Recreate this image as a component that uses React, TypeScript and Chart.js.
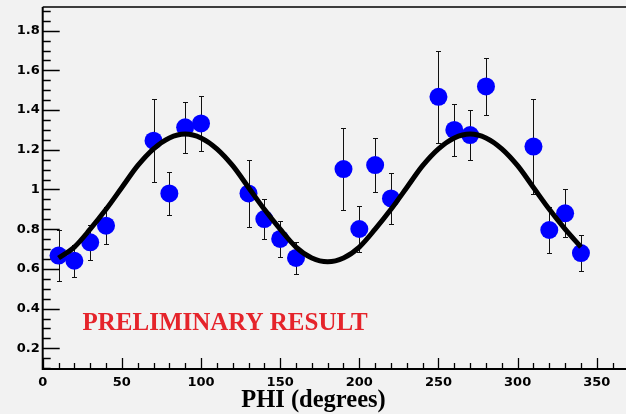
import React, { useEffect, useRef } from "react";
import { Chart, registerables } from "chart.js";

Chart.register(...registerables);

// ---- data ----
const phi = [10, 20, 30, 40, 70, 80, 90, 100, 130, 140, 150, 160, 190, 200, 210, 220, 250, 260, 270, 280, 310, 320, 330, 340];
const ratio = [0.667, 0.641, 0.734, 0.818, 1.246, 0.98, 1.313, 1.333, 0.98, 0.851, 0.751, 0.655, 1.103, 0.801, 1.123, 0.955, 1.467, 1.3, 1.274, 1.519, 1.216, 0.796, 0.88, 0.68];
const ratioErr = [0.128, 0.08, 0.089, 0.093, 0.21, 0.107, 0.129, 0.137, 0.17, 0.1, 0.092, 0.082, 0.207, 0.117, 0.137, 0.128, 0.233, 0.133, 0.124, 0.143, 0.24, 0.115, 0.12, 0.093];

const fitPhi = [10, 20, 30, 40, 50, 60, 70, 80, 90, 100, 110, 120, 130, 140, 150, 160, 170, 180, 190, 200, 210, 220, 230, 240, 250, 260, 270, 280, 290, 300, 310, 320, 330, 340];
const fitVal = [0.655, 0.71, 0.8, 0.9, 1.01, 1.12, 1.205, 1.26, 1.28, 1.26, 1.205, 1.12, 1.01, 0.9, 0.8, 0.71, 0.655, 0.636, 0.655, 0.71, 0.8, 0.9, 1.01, 1.12, 1.205, 1.26, 1.28, 1.26, 1.205, 1.12, 1.01, 0.9, 0.8, 0.71];

const xTickLabels = [0, 50, 100, 150, 200, 250, 300, 350];
const yTickLabels = [0.2, 0.4, 0.6, 0.8, 1.0, 1.2, 1.4, 1.6, 1.8];

const X_MIN = 0;
const X_MAX = 377.3;
const Y_MIN = 0.0957;
const Y_MAX = 1.9194;

const xTitle = "PHI (degrees)";
const stamp = "PRELIMINARY RESULT";

const decor = {
  id: "decor",
  beforeDatasetsDraw(chart: any) {
    const { ctx, scales } = chart;
    const xs = scales.x;
    const ys = scales.y;
    ctx.save();
    ctx.strokeStyle = "#111";
    ctx.lineWidth = 1;
    for (let i = 0; i < phi.length; i++) {
      const px = Math.round(xs.getPixelForValue(phi[i])) + 0.5;
      const t = Math.round(ys.getPixelForValue(ratio[i] + ratioErr[i])) + 0.5;
      const b = Math.round(ys.getPixelForValue(ratio[i] - ratioErr[i])) + 0.5;
      ctx.beginPath();
      ctx.moveTo(px, t);
      ctx.lineTo(px, b);
      ctx.moveTo(px - 2.5, t);
      ctx.lineTo(px + 2.5, t);
      ctx.moveTo(px - 2.5, b);
      ctx.lineTo(px + 2.5, b);
      ctx.stroke();
    }
    ctx.restore();
  },
  afterDraw(chart: any) {
    const { ctx, chartArea: ca, scales } = chart;
    const xs = scales.x;
    const ys = scales.y;
    ctx.save();
    ctx.strokeStyle = "#000";
    // frame
    ctx.lineWidth = 2;
    ctx.beginPath();
    ctx.moveTo(ca.left, ca.top);
    ctx.lineTo(ca.left, ca.bottom);
    ctx.lineTo(ca.right, ca.bottom);
    ctx.stroke();
    ctx.lineWidth = 1.5;
    ctx.beginPath();
    ctx.moveTo(ca.left, ca.top);
    ctx.lineTo(ca.right, ca.top);
    ctx.stroke();
    // y ticks (inward)
    ctx.lineWidth = 1.3;
    ctx.beginPath();
    for (let k = 2; k <= 38; k++) {
      const v = k * 0.05;
      const py = Math.round(ys.getPixelForValue(v)) + 0.5;
      const len = k % 4 === 0 ? 17 : 8;
      ctx.moveTo(ca.left, py);
      ctx.lineTo(ca.left + len, py);
    }
    ctx.stroke();
    // x ticks (inward)
    ctx.beginPath();
    for (let k = 0; k <= 37; k++) {
      const v = k * 10;
      const px = Math.round(xs.getPixelForValue(v)) + 0.5;
      const len = k % 5 === 0 ? 11 : 6;
      ctx.moveTo(px, ca.bottom);
      ctx.lineTo(px, ca.bottom - len);
    }
    ctx.stroke();
    // texts
    ctx.fillStyle = "#000";
    ctx.font = "bold 24.5px 'Liberation Serif', serif";
    ctx.textAlign = "center";
    ctx.textBaseline = "alphabetic";
    ctx.fillText(xTitle, 313.5, 406.5);
    ctx.fillStyle = "#e5242b";
    ctx.font = "bold 25px 'Liberation Serif', serif";
    ctx.textAlign = "left";
    ctx.fillText(stamp, 82.5, 329.5);
    ctx.restore();
  },
};

export default function App() {
  const ref = useRef<HTMLCanvasElement | null>(null);
  useEffect(() => {
    if (!ref.current) return;
    const tickFont = { family: "'DejaVu Sans', sans-serif", size: 13, weight: "bold" as const };
    const chart = new Chart(ref.current, {
      type: "scatter",
      data: {
        datasets: [
          {
            label: "data",
            data: phi.map((x, i) => ({ x, y: ratio[i] })),
            backgroundColor: "#0000ff",
            borderWidth: 0,
            pointRadius: 9,
            pointHoverRadius: 9,
            order: 2,
          },
          {
            label: "fit",
            data: fitPhi.map((x, i) => ({ x, y: fitVal[i] })),
            showLine: true,
            borderColor: "#000",
            borderWidth: 5,
            pointRadius: 0,
            cubicInterpolationMode: "monotone",
            order: 1,
          } as any,
        ],
      },
      options: {
        animation: false,
        responsive: false,
        devicePixelRatio: 1,
        layout: { autoPadding: false, padding: { top: 7, left: 0, right: 0, bottom: 0 } },
        plugins: { legend: { display: false }, tooltip: { enabled: false } },
        scales: {
          x: {
            type: "linear",
            min: X_MIN,
            max: X_MAX,
            grid: { display: false, drawTicks: false },
            border: { display: false },
            ticks: {
              font: tickFont,
              color: "#000",
              padding: 6,
              maxRotation: 0,
              autoSkip: false,
              callback: (v: any) => String(v),
            },
            afterBuildTicks: (s: any) => {
              s.ticks = xTickLabels.map((v) => ({ value: v }));
            },
            afterFit: (s: any) => {
              s.height = 45;
              s.paddingLeft = 0;
              s.paddingRight = 0;
            },
          },
          y: {
            type: "linear",
            min: Y_MIN,
            max: Y_MAX,
            grid: { display: false, drawTicks: false },
            border: { display: false },
            ticks: {
              font: tickFont,
              color: "#000",
              padding: 3,
              autoSkip: false,
              callback: (v: any) => (Math.abs(v - 1) < 1e-9 ? "1" : Number(v).toFixed(1)),
            },
            afterBuildTicks: (s: any) => {
              s.ticks = yTickLabels.map((v) => ({ value: v }));
            },
            afterFit: (s: any) => {
              s.width = 42.7;
              s.paddingTop = 0;
              s.paddingBottom = 0;
            },
          },
        },
      },
      plugins: [decor],
    });
    return () => chart.destroy();
  }, []);
  return (
    <div
      style={{
        position: "fixed",
        left: 0,
        top: 0,
        width: 626,
        height: 414,
        overflow: "hidden",
        background: "#f2f2f2",
      }}
    >
      <canvas ref={ref} width={640} height={414} style={{ width: 640, height: 414, display: "block" }} />
    </div>
  );
}
